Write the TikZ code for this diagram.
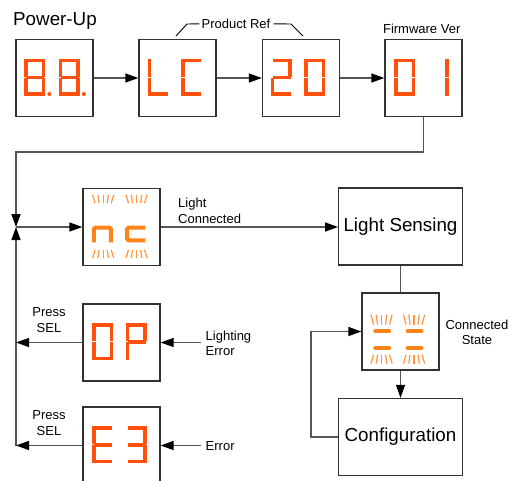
\documentclass[tikz,border=0pt]{standalone}
\usepackage{fontspec}
\setmainfont{Liberation Sans}
\usetikzlibrary{arrows.meta,calc}
\definecolor{dred}{RGB}{255,80,12}
\definecolor{dorg}{RGB}{255,132,24}
\definecolor{dray}{RGB}{255,150,60}
\definecolor{lineg}{RGB}{85,85,85}
\definecolor{boxg}{RGB}{50,50,50}
\newcommand\sgmta{\draw[dseg] (1.8,1.8) -- (19.8,1.8);}
\newcommand\sgmtb{\draw[dseg] (19.2,0) -- (19.2,17.9);}
\newcommand\sgmtc{\draw[dseg] (19.2,19.1) -- (19.2,37);}
\newcommand\sgmtd{\draw[dseg] (1.8,35.2) -- (19.8,35.2);}
\newcommand\sgmte{\draw[dseg] (1.8,19.1) -- (1.8,37);}
\newcommand\sgmtf{\draw[dseg] (1.8,0) -- (1.8,17.9);}
\newcommand\sgmtg{\draw[dseg] (1.8,18.5) -- (19.8,18.5);}
\newcommand\sgmtp{\fill[dred] (25,35.2) circle (2);}
\newcommand\digit[2]{\begin{scope}[shift={(#1)}]\foreach \s in {#2}{\csname sgmt\s\endcsname}\end{scope}}
\newcommand\rays[3]{\foreach \k in {-2,...,2}{\draw[ray] ({#1+(\k)*4},#2) -- ({#1+(\k)*5.3},#3);}}
\begin{document}
\begin{tikzpicture}[x=1pt,y=-1pt,
  box/.style={draw=boxg, line width=1.3pt, minimum width=77pt, minimum height=77pt, inner sep=0pt, fill=white},
  bigbox/.style={box, minimum width=123.5pt, font=\fontsize{18.8}{22}\selectfont},
  conn/.style={draw=lineg, line width=1.3pt},
  tipped/.style={conn, -{Triangle[length=13pt,width=9pt,color=black]}},
  small/.style={font=\fontsize{13}{15.6}\selectfont, inner sep=0pt},
  dseg/.style={draw=dred, line width=3.6pt, line cap=butt},
  ray/.style={draw=dray, line width=1.2pt},
  soft/.style={draw=dorg, line width=4pt},
  bracket/.style={draw=black, line width=0.9pt}]
\useasboundingbox (0,0) rectangle (509,480);
\clip (0,0) rectangle (509,480);
% top row
\node[box] (b1) at (54.5,78) {};
\node[box] (b2) at (177.5,78) {};
\node[box] (b3) at (301,78) {};
\node[box] (b4) at (423.5,78) {};
\digit{$(b1.north west)+(9,20)$}{a,b,c,d,e,f,g,p}
\digit{$(b1.north west)+(43.5,20)$}{a,b,c,d,e,f,g,p}
\digit{$(b2.north west)+(9.5,20)$}{f,e,d}
\digit{$(b2.north west)+(43,20)$}{a,f,e,d}
\digit{$(b3.north west)+(9,20)$}{a,b,g,e,d}
\digit{$(b3.north west)+(42.5,20)$}{a,b,c,d,e,f}
\digit{$(b4.north west)+(10,20)$}{a,b,c,d,e,f}
\digit{$(b4.north west)+(43.5,20)$}{b,c}
\draw[tipped] (b1.east) -- (b2.west);
\draw[tipped] (b2.east) -- (b3.west);
\draw[tipped] (b3.east) -- (b4.west);
\node[anchor=base west, inner sep=0pt, font=\fontsize{18.8}{22}\selectfont] (pu) at (13,25.5) {Power-Up};
\node[small] (pr) at (236,23.8) {Product Ref};
\node[small] (fv) at (421.7,28.8) {Firmware Ver};
\draw[bracket] (176,36) -- (187,24) -- ([xshift=-2pt]pr.west);
\draw[bracket] ([xshift=3pt]pr.east) -- (291,24) -- (303,36);
% left column
\node[box] (nc) at (121.5,227) {};
\node[box] (op) at (121.5,342.5) {};
\node[box] (e3) at (121.5,445.5) {};
\begin{scope}[shift={(nc.north west)}]
  \draw[soft, rounded corners=1.5pt] (11.5,54.5) -- (11.5,39.8) -- (28.5,39.8) -- (28.5,54.5);
  \draw[soft, rounded corners=1.5pt] (63,39.8) -- (44.8,39.8) -- (44.8,52.5) -- (63,52.5);
  \rays{20.8}{15.3}{7}
  \rays{54.2}{15.3}{7}
  \rays{20.8}{62}{70}
  \rays{54.2}{62}{70}
\end{scope}
\digit{$(op.north west)+(10,20)$}{a,b,c,d,e,f}
\digit{$(op.north west)+(43.5,20)$}{a,b,g,f,e}
\digit{$(e3.north west)+(10,20)$}{a,f,g,e,d}
\digit{$(e3.north west)+(43.5,20)$}{a,b,g,c,d}
\coordinate (tl) at (16,152);
\coordinate (j) at (16,227);
\coordinate (bl) at (16,445.5);
\draw[tipped] (b4.south) |- (tl) -- (j);
\draw[tipped] (bl) -- (j);
\draw[tipped] (j) -- (nc.west);
\draw[tipped] (op.west) -- (op.west -| tl);
\draw[tipped] (e3.west) -- (bl);
\node[small, align=center] (ps1) at (49,320.2) {Press\\SEL};
\node[small, align=center] (ps2) at (49,422.8) {Press\\SEL};
\node[small, align=left, anchor=west, inner xsep=5pt] (le) at (200.5,343.3) {Lighting\\Error};
\node[small, anchor=west, inner xsep=5pt] (er) at (200.5,446.3) {Error};
\draw[tipped] (op.east -| le.west) -- (op.east);
\draw[tipped] (e3.east -| er.west) -- (e3.east);
% right column
\node[bigbox] (ls) at (400.5,226.5) {Light Sensing};
\node[box] (cs) at (400.5,331.5) {};
\node[bigbox] (cf) at (400.5,437) {Configuration};
\node[small, align=left, anchor=north west] (lc) at (178,198) {Light\\Connected};
\draw[tipped] (nc.east) -- (nc.east -| ls.west);
\draw[conn] (ls.south) -- (cs.north);
\draw[tipped] (cs.south) -- (cf.north);
\draw[tipped] (cf.west) -- ++(-27,0) |- (cs.west);
\node[small, align=center] (cst) at (477,332.2) {Connected\\State};
\begin{scope}[shift={(cs.north west)}]
  \draw[draw=dorg, line width=4.2pt, line cap=round] (14,39) -- (27.7,39);
  \draw[draw=dorg, line width=4.2pt, line cap=round] (46.4,39) -- (60,39);
  \draw[draw=dorg, line width=4.2pt, line cap=round] (14,55.6) -- (27.7,55.6);
  \draw[draw=dorg, line width=4.2pt, line cap=round] (46.4,55.6) -- (60,55.6);
  \rays{20.2}{32.3}{22.3}
  \rays{52.7}{32.3}{22.3}
  \rays{20.2}{62.3}{71.3}
  \rays{52.7}{62.3}{71.3}
\end{scope}
\end{tikzpicture}
\end{document}
